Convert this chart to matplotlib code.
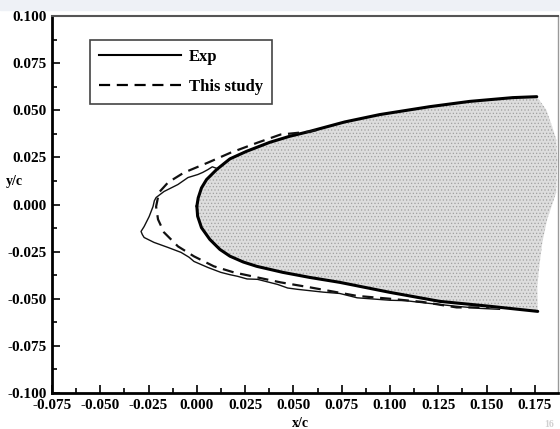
import numpy as np
import matplotlib
matplotlib.use('Agg')
import matplotlib.pyplot as plt
from matplotlib.lines import Line2D
from matplotlib.patches import Rectangle
from matplotlib.ticker import MultipleLocator, FormatStrFormatter

# body contour (thick line, shaded interior)
body_up_x = [0.0000, 0.0007, 0.0024, 0.0050, 0.0102, 0.0171, 0.0257, 0.0378,
             0.0481, 0.0585, 0.0766, 0.0947, 0.1206, 0.1413, 0.1636, 0.1760]
body_up_y = [-0.0009, 0.0035, 0.0088, 0.0132, 0.0185, 0.0242, 0.0282, 0.0330,
             0.0362, 0.0388, 0.0438, 0.0477, 0.0519, 0.0547, 0.0567, 0.0572]
body_lo_x = [0.0000, 0.0004, 0.0024, 0.0067, 0.0119, 0.0171, 0.0240, 0.0310,
             0.0445, 0.0585, 0.0740, 0.0999, 0.1258, 0.1517, 0.1765]
body_lo_y = [-0.0009, -0.0062, -0.0123, -0.0185, -0.0238, -0.0274, -0.0305,
             -0.0328, -0.0360, -0.0387, -0.0413, -0.0466, -0.0514, -0.0540,
             -0.0567]
# ragged trailing edge of the shaded region (top to bottom)
edge_x = [0.1809, 0.1840, 0.1861, 0.1866, 0.1861, 0.1840, 0.1814, 0.1789,
          0.1773, 0.1763]
edge_y = [0.0503, 0.0413, 0.0344, 0.0238, 0.0064, 0.0000, -0.0079, -0.0201,
          -0.0328, -0.0434]

# experimental outline
exp_x = [0.0102, 0.0080, 0.0057, 0.0030, 0.0005, -0.0046, -0.0098, -0.0170,
         -0.0211, -0.0220, -0.0227, -0.0247, -0.0273, -0.0289, -0.0282,
         -0.0273, -0.0222, -0.0149, -0.0082, -0.0040, -0.0015, 0.0057, 0.0124,
         0.0170, 0.0211, 0.0260, 0.0314, 0.0418, 0.0470, 0.0521, 0.0655,
         0.0740, 0.0830, 0.1000, 0.1080, 0.1170, 0.1345, 0.1464, 0.1567]
exp_y = [0.0192, 0.0200, 0.0185, 0.0170, 0.0159, 0.0143, 0.0106, 0.0069,
         0.0037, 0.0020, -0.0011, -0.0064, -0.0117, -0.0143, -0.0160,
         -0.0175, -0.0201, -0.0228, -0.0254, -0.0280, -0.0302, -0.0334,
         -0.0360, -0.0372, -0.0381, -0.0395, -0.0397, -0.0424, -0.0443,
         -0.0450, -0.0465, -0.0472, -0.0495, -0.0508, -0.0510, -0.0521,
         -0.0540, -0.0551, -0.0556]

# computed outline
sim_x = [0.0620, 0.0588, 0.0433, 0.0314, 0.0175, 0.0057, -0.0067, -0.0149,
         -0.0196, -0.0211, -0.0201, -0.0170, -0.0098, -0.0015, 0.0088,
         0.0191, 0.0314, 0.0433, 0.0588, 0.0830, 0.1000, 0.1170, 0.1345,
         0.1515]
sim_y = [0.0395, 0.0387, 0.0371, 0.0328, 0.0275, 0.0222, 0.0169, 0.0117,
         0.0064, -0.0011, -0.0079, -0.0148, -0.0222, -0.0275, -0.0328,
         -0.0360, -0.0387, -0.0413, -0.0440, -0.0485, -0.0500, -0.0517,
         -0.0546, -0.0546]

plt.rcParams['font.family'] = 'Liberation Serif'
plt.rcParams['font.weight'] = 'bold'
plt.rcParams['axes.unicode_minus'] = False
plt.rcParams['hatch.linewidth'] = 0.5

fig = plt.figure(figsize=(5.6, 4.29), dpi=100)
fig.patches.append(Rectangle((0, 1 - 10 / 429), 1, 10 / 429,
                             transform=fig.transFigure, color='#eef1f6',
                             zorder=-1))
ax = fig.add_axes([52 / 560, 36 / 429, 506 / 560, 377 / 429])

fx = np.concatenate([body_up_x, edge_x, body_lo_x[::-1]])
fy = np.concatenate([body_up_y, edge_y, body_lo_y[::-1]])
ax.fill(fx, fy, facecolor='#dddddd', edgecolor='#a0a0a0', hatch='.....',
        lw=0, zorder=1)

ax.plot(body_up_x, body_up_y, color='k', lw=2.2, solid_capstyle='round',
        solid_joinstyle='round', zorder=3)
ax.plot(body_lo_x, body_lo_y, color='k', lw=2.2, solid_capstyle='round',
        solid_joinstyle='round', zorder=3)
ax.plot(exp_x, exp_y, color='#111111', lw=1.0, zorder=4)
ax.plot(sim_x, sim_y, color='#111111', lw=1.6, ls=(0, (5, 3)), zorder=4)

ax.set_xlim(-0.075, 0.187)
ax.set_ylim(-0.100, 0.100)
ax.xaxis.set_major_locator(MultipleLocator(0.025))
ax.xaxis.set_minor_locator(MultipleLocator(0.0125))
ax.yaxis.set_major_locator(MultipleLocator(0.025))
ax.yaxis.set_minor_locator(MultipleLocator(0.0125))
ax.xaxis.set_major_formatter(FormatStrFormatter('%.3f'))
ax.yaxis.set_major_formatter(FormatStrFormatter('%.3f'))
ax.tick_params(which='both', direction='in', top=False, right=False,
               width=1.2, labelsize=11, pad=4)
ax.tick_params(which='major', length=6)
ax.tick_params(which='minor', length=3.5)

for side in ('left', 'bottom'):
    ax.spines[side].set_linewidth(2.0)
    ax.spines[side].set_color('k')
ax.spines['top'].set_linewidth(1.5)
ax.spines['top'].set_color('#555555')
ax.spines['right'].set_linewidth(1.0)
ax.spines['right'].set_color('#999999')

ax.text(-0.075, 0.562, 'y/c', transform=ax.transAxes, fontsize=10,
        ha='center', va='center')
ax.text(0.49, -0.082, 'x/c', transform=ax.transAxes, fontsize=10,
        ha='center', va='center')

handles = [Line2D([], [], color='k', lw=1.5),
           Line2D([], [], color='k', lw=1.6, ls=(0, (5, 3)))]
leg = ax.legend(handles, ['Exp', 'This study'], loc='upper left',
                bbox_to_anchor=(0.075, 0.936), prop={'size': 12, 'weight': 'bold'},
                handlelength=4.9, handletextpad=0.5, labelspacing=0.8,
                borderpad=0.55, borderaxespad=0, fancybox=False,
                framealpha=1, edgecolor='#444444')
leg.get_frame().set_linewidth(1.2)

fig.text(0.99, 0.0, '16', color='#d0d0d0', fontsize=7, ha='right', va='bottom')

fig.savefig('out.png', dpi=100)
